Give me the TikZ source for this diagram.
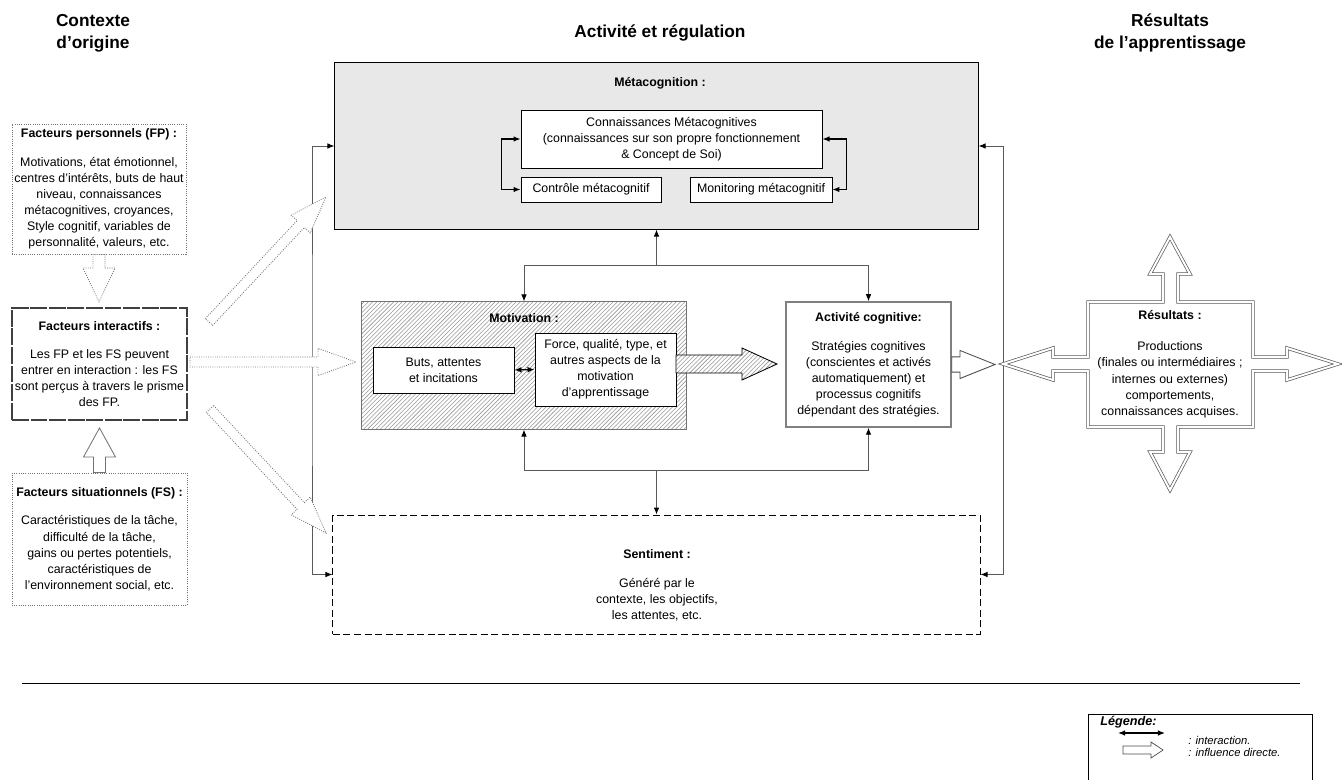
\documentclass[tikz,border=0pt]{standalone}
\usepackage{fontspec}
\setmainfont{Liberation Sans}
\usetikzlibrary{arrows.meta,positioning,calc,patterns}

\newcommand{\boxfont}{\fontsize{8.8}{11.4}\selectfont}
\newcommand{\headfont}{\fontsize{12.3}{15.6}\selectfont\bfseries}
% tail, tip, half shaft, half head, head length
\newcommand{\blockarrow}[6][]{%
  \coordinate (ba-c) at ($(#3)!#6!(#2)$);
  \draw[#1] ($(#2)!#4!90:(#3)$) -- ($(ba-c)!#4!90:(#3)$) -- ($(ba-c)!#5!90:(#3)$)
    -- (#3) -- ($(ba-c)!#5!-90:(#3)$) -- ($(ba-c)!#4!-90:(#3)$) -- ($(#2)!#4!-90:(#3)$) -- cycle;}

\begin{document}
\begin{tikzpicture}[x=0.025cm, y=-0.025cm, font=\boxfont,
  box/.style={draw, fill=white, align=center, inner sep=1pt, line width=0.6pt},
  dotbox/.style={box, draw=black!55, densely dotted},
  ttl/.style={font=\headfont, align=center},
  boxttl/.style={font=\boxfont\bfseries},
  lk/.style={draw=black!65, line width=0.7pt, -{Latex[length=5pt,width=4pt,color=black]}},
  lkb/.style={lk, {Latex[length=5pt,width=4pt,color=black]}-{Latex[length=5pt,width=4pt,color=black]}},
  bi/.style={line width=0.9pt, {Latex[length=5pt,width=4pt]}-{Latex[length=5pt,width=4pt]}},
  infl/.style={draw=black!55, densely dotted, fill=white, line width=0.6pt},
  infls/.style={draw=black!55, fill=white, line width=0.6pt}
]
\useasboundingbox (0,0) rectangle (1342,780);

\node[ttl] (tctx) at (93,33) {Contexte\\d’origine};
\node[ttl] (tact) at (660,33) {Activité et régulation};
\node[ttl] (tres) at (1170,33) {Résultats\\de l’apprentissage};

\node[dotbox, minimum width=4.35cm, minimum height=3.25cm] (fp) at (99,189) {\textbf{Facteurs personnels (FP) :}\\[9pt]Motivations, état émotionnel,\\centres d’intérêts, buts de haut\\niveau, connaissances\\métacognitives, croyances,\\Style cognitif, variables de\\personnalité, valeurs, etc.};
\node[box, draw=black!75, dash pattern=on 12pt off 1.2pt, line width=0.8pt, minimum width=4.375cm, minimum height=2.8cm] (fi) at (99.5,364) {\textbf{Facteurs interactifs :}\\[9pt]Les FP et les FS peuvent\\entrer en interaction : les FS\\sont perçus à travers le prisme\\des FP.};
\node[dotbox, minimum width=4.375cm, minimum height=3.3cm] (fs) at (99.5,539) {\textbf{Facteurs situationnels (FS) :}\\[9pt]Caractéristiques de la tâche,\\difficulté de la tâche,\\gains ou pertes potentiels,\\caractéristiques de\\l’environnement social, etc.};

\node[draw, fill=black!9, line width=0.7pt, minimum width=16.075cm, minimum height=4.15cm] (meta) at (656.5,146) {};
\node[boxttl] (metat) at (660,83) {Métacognition :};
\node[box, minimum width=7.525cm, minimum height=1.45cm] (conn) at (671.5,139) {Connaissances Métacognitives\\(connaissances sur son propre fonctionnement\\\& Concept de Soi)};
\node[box, minimum width=3.5cm, minimum height=0.625cm] (ctrl) at (591,189.5) {Contrôle métacognitif};
\node[box, minimum width=3.55cm, minimum height=0.625cm] (moni) at (761,189.5) {Monitoring métacognitif};
\draw[bi] (conn.west) -- ++(-19,0) |- (ctrl.west);
\draw[bi] (conn.east) -- ++(24,0) |- (moni.east);

\node[draw=black!55, line width=0.7pt, pattern=north east lines, pattern color=black!40, minimum width=8.1cm, minimum height=3.175cm] (mot) at (524,365.5) {};
\node[boxttl] (mott) at (524,318) {Motivation :};
\node[box, minimum width=3.525cm, minimum height=1.15cm] (buts) at (443.5,370) {Buts, attentes\\et incitations};
\node[box, minimum width=3.525cm, minimum height=1.825cm] (force) at (605.5,369.5) {Force, qualité, type, et\\autres aspects de la\\motivation\\d’apprentissage};
\draw[bi] (buts.east) -- (force.west);

\node[box, draw=black!50, line width=1pt, minimum width=4.125cm, minimum height=3.125cm] (act) at (868.5,364.5) {\textbf{Activité cognitive:}\\[9pt]Stratégies cognitives\\(conscientes et activés\\automatiquement) et\\processus cognitifs\\dépendant des stratégies.};

\node[draw, dash pattern=on 5pt off 2.5pt, line width=0.6pt, minimum width=16.175cm, minimum height=2.975cm] (sent) at (656.5,574.5) {};
\node[boxttl] (sentt) at (657,554) {Sentiment :};
\node[align=center] (sentx) at (657,600) {Généré par le\\contexte, les objectifs,\\les attentes, etc.};

\coordinate (jt) at (656.5,265);
\coordinate (jb) at (656.5,470);
\draw[lk] (jt) -- (meta.south);
\draw[lk] (jt) -| (mot.north);
\draw[lk] (jt) -| (act.north);
\draw[lk] (jb) -- (sent.north);
\draw[lk] (jb) -| (mot.south);
\draw[lk] (jb) -| (act.south);

\coordinate (vl) at (312,360);
\coordinate (vr) at (1003,360);
\draw[lkb] (meta.west) -| (vl) |- (sent.west);
\draw[lkb] (meta.east) -| (vr) |- (sent.east);

\coordinate (fi-n) at (99,302);
\coordinate (fi-s) at (99.5,428);
\coordinate (fi-a1) at (209,322);
\coordinate (meta-t) at (326,197);
\coordinate (fi-a2) at (190,362);
\coordinate (mot-t) at (356,362);
\coordinate (fi-a3) at (210,409);
\coordinate (sent-t) at (326,533);
\coordinate (force-a) at (676,364);
\coordinate (act-t) at (777,364);
\coordinate (res-t) at (995,364.5);
\blockarrow[infl]{fp.south}{fi-n}{0.15cm}{0.4cm}{0.85cm}
\blockarrow[infls]{fs.north}{fi-s}{0.15cm}{0.4cm}{0.725cm}
\blockarrow[infl]{fi-a1}{meta-t}{0.125cm}{0.325cm}{0.925cm}
\blockarrow[infl]{fi-a2}{mot-t}{0.125cm}{0.34cm}{0.95cm}
\blockarrow[infl]{fi-a3}{sent-t}{0.125cm}{0.325cm}{0.925cm}
\blockarrow[draw=black, line width=0.6pt, preaction={fill=white}, pattern=north east lines, pattern color=black!40]{force-a}{act-t}{0.225cm}{0.4cm}{0.875cm}
\blockarrow[draw=black!70, fill=white, line width=0.6pt]{act.east}{res-t}{0.19cm}{0.35cm}{0.875cm}

\draw[draw=black!65, double=white, double distance=1.4pt, line width=0.5pt, fill=white]
  (1088,302) -- (1163,302) -- (1163,274) -- (1150,274) -- (1170,237) -- (1190,274) -- (1178,274) -- (1178,302)
  -- (1253,302) -- (1253,357) -- (1287,357) -- (1287,348) -- (1338,364) -- (1287,380) -- (1287,371) -- (1253,371)
  -- (1253,427) -- (1178,427) -- (1178,452) -- (1190,452) -- (1170,490) -- (1150,452) -- (1163,452) -- (1163,427)
  -- (1088,427) -- (1088,371) -- (1053,371) -- (1053,380) -- (1003,364) -- (1053,348) -- (1053,357) -- (1088,357) -- cycle;
\node[align=center] (res) at (1170,364) {\textbf{Résultats :}\\[11pt]Productions\\(finales ou intermédiaires ;\\internes ou externes)\\comportements,\\connaissances acquises.};

\draw[line width=0.7pt] (22,683) -- (1300,683);

\node[draw, line width=0.7pt, minimum width=5.6cm, minimum height=2cm, anchor=north west] (leg) at (1088,714) {};
\node[font=\fontsize{9}{10}\selectfont\bfseries\itshape, anchor=west, inner sep=0pt] (legt) at (1100,722) {Légende:};
\coordinate (l1a) at (1118,733);
\coordinate (l1b) at (1165,733);
\draw[bi] (l1a) -- (l1b);
\coordinate (l2a) at (1123,750);
\coordinate (l2b) at (1163,750);
\blockarrow[draw=black!70, fill=white, line width=0.5pt]{l2a}{l2b}{0.1cm}{0.2cm}{0.3cm}
\node[font=\fontsize{8}{8.5}\selectfont\itshape, align=left, anchor=north west, inner sep=0pt] (legx) at (1188,736) {: interaction.\\: influence directe.};
\end{tikzpicture}
\end{document}
